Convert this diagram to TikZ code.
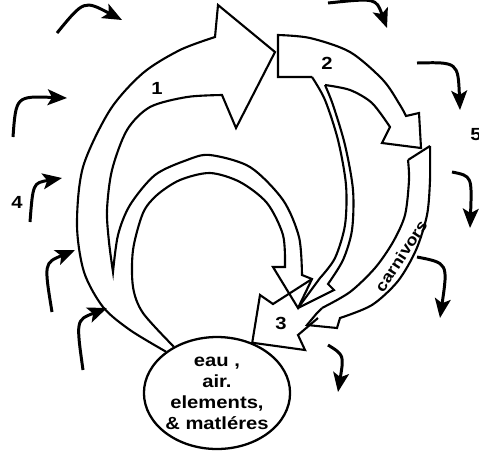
\documentclass[tikz,border=0pt]{standalone}
\usepackage{fontspec}
\newfontfamily\diagfont{Liberation Sans}[FakeStretch=1.15]
\usetikzlibrary{arrows.meta,shapes.geometric}

\begin{document}
\begin{tikzpicture}[x=0.02cm,y=-0.02cm,
    edge/.style={line width=1.2pt},
    flow/.style={line width=1.7pt,-{Stealth[length=11pt,width=9pt,inset=2.5pt]}},
    num/.style={font=\diagfont\bfseries\fontsize{10}{10}\selectfont},
    pool/.style={draw,ellipse,line width=1.3pt,inner sep=0pt,minimum width=2.5cm,minimum height=2.24cm,
        align=center,font=\diagfont\bfseries\fontsize{10}{12}\selectfont}]
\useasboundingbox (0,0) rectangle (479,451);
\node[pool] (pool) at (217,393) {eau ,\\air.\\elements,\\\& matl\'eres};  % Reservoir
% Arrow 1 and the inner loop
\draw[edge] plot[smooth] coordinates {(pool.141) (130,330) (103,307) (84,272) (77,225) (83,167) (110,110) (143,73) (180,50) (215,37)}
    -- (218,5) -- (275,52) -- (236,128) -- (222,95)                                   % Head of arrow 1
    -- plot[smooth] coordinates {(222,95) (187,97) (150,107) (127,130) (112,170) (107,210) (109,242) (113,272)}
    -- plot[smooth] coordinates {(113,272) (118,235) (130,205) (155,175) (187,160) (210,155) (250,167) (283,200) (299,237) (302,275)}
    -- (312,279) -- (298,308) -- (273,267) -- (285,267)                                 % Head of the loop
    -- plot[smooth] coordinates {(285,267) (283,235) (267,203) (240,182) (210,173) (180,180) (157,195) (143,213) (133,250) (133,287) (143,313) (pool.133)};
% Arrow 2
\draw[edge] (312,77) -- (278,77) -- (278,35)
    -- plot[smooth] coordinates {(278,35) (310,38) (350,52) (383,80) (400,105) (406,116)}
    -- (419,113) -- (421,148) -- (382,143)                                              % Head of arrow 2
    -- plot[smooth] coordinates {(390,127) (372,103) (350,90) (325,85)};
% Thin band down to 3
\draw[edge] plot[smooth] coordinates {(312,77) (325,100) (338,140) (346,185) (345,225) (335,258) (320,278)} -- (298,308);
\draw[edge] plot[smooth] coordinates {(325,85) (333,105) (345,145) (353,190) (352,230) (343,260) (328,284)} -- (334,290) -- (298,308);
% Carnivores band
\draw[edge] (408,160) -- (430,146);
\draw[edge] plot[smooth] coordinates {(430,146) (430,180) (427,215) (416,250) (398,281) (372,305) (340,318)}
    -- (337,328) -- (307,325) -- (317,313) -- (322,308);                                % Head of the band
\draw[edge] plot[smooth] coordinates {(408,160) (409,180) (405,215) (393,242) (375,268) (350,292) (322,308)};
\node[font=\diagfont\bfseries\fontsize{9}{9}\selectfont,rotate=57,inner sep=0pt] (carn) at (401,256) {carnivors};
% Arrow 3
\draw[edge] (312,279) -- (273,304) -- (260,295) -- (pool.55) -- (305,350) -- (298,335) -- (318,318);
% Numbers
\node[num] (n1) at (157,88) {1};
\node[num] (n2) at (327,63) {2};
\node[num] (n3) at (281,323) {3};
\node[num] (n4) at (17,202) {4};
\node[num] (n5) at (476,135) {5};
% Exchanges with the outside
\draw[flow] (57,33) .. controls (84,0) .. (122,20);
\draw[flow] (13,137) .. controls (16,96) .. (67,98);
\draw[flow] (30,222) .. controls (33,183) .. (62,178);
\draw[flow] (52,312) .. controls (44,263) .. (75,250);
\draw[flow] (83,370) .. controls (76,320) .. (107,308);
\draw[flow] (328,3) .. controls (376,-2) .. (387,28);
\draw[flow] (417,63) .. controls (458,62) .. (460,110);
\draw[flow] (452,172) .. controls (472,176) .. (470,228);
\draw[flow] (417,257) .. controls (448,263) .. (440,318);
\draw[flow] (328,345) .. controls (344,355) .. (338,392);
\end{tikzpicture}
\end{document}
